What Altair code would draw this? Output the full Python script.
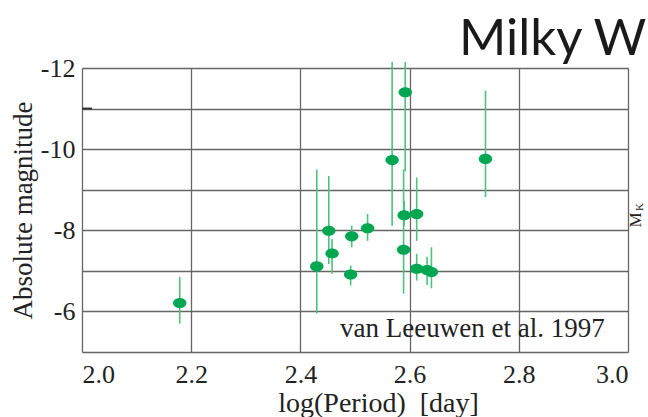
import altair as alt
import pandas as pd

# Cepheid data
log_period = [2.179, 2.430, 2.452, 2.458, 2.492, 2.494, 2.523, 2.568,
              2.589, 2.590, 2.592, 2.613, 2.613, 2.632, 2.640, 2.739]
abs_mag = [-6.21, -7.11, -7.99, -7.43, -6.91, -7.85, -8.05, -9.73,
           -7.52, -8.37, -11.40, -8.40, -7.05, -7.02, -6.97, -9.76]
err_top = [-6.85, -9.50, -9.34, -7.78, -7.13, -8.11, -8.40, -12.15,
           -9.50, -8.72, -12.15, -9.30, -7.42, -7.35, -7.58, -11.44]
err_bottom = [-5.70, -5.95, -7.17, -6.93, -6.64, -7.58, -7.74, -8.11,
              -6.44, -8.11, -9.45, -7.74, -6.76, -6.65, -6.57, -8.82]

x_ticks = [2.0, 2.2, 2.4, 2.6, 2.8, 3.0]
y_grid = [-12, -11, -10, -9, -8, -7, -6, -5]

df = pd.DataFrame({"logP": log_period, "M": abs_mag, "lo": err_top, "hi": err_bottom})

SERIF = "Liberation Serif"
W, H = 546, 284

xscale = alt.Scale(domain=[2.0, 3.0], nice=False, zero=False)
yscale = alt.Scale(domain=[-12, -5], reverse=True, nice=False, zero=False)

xaxis = alt.Axis(values=x_ticks, format=".1f", title="log(Period)\u00a0 [day]",
                 grid=True, ticks=False, domain=False,
                 labelFont=SERIF, labelFontSize=26, labelColor="#222", labelPadding=9,
                 titleFont=SERIF, titleFontSize=28, titleFontWeight="normal",
                 titleColor="#222", titlePadding=2, titleX=296, titleAlign="center",
                 gridColor="#666", gridWidth=1.3)
yaxis = alt.Axis(values=y_grid, labelExpr="datum.value % 2 == 0 ? '' + datum.value : ''",
                 title="Absolute magnitude", grid=True, ticks=False, domain=False,
                 labelFont=SERIF, labelFontSize=26, labelColor="#222", labelPadding=7,
                 titleFont=SERIF, titleFontSize=27, titleFontWeight="normal",
                 titleColor="#222", titlePadding=3,
                 gridColor="#666", gridWidth=1.3)

base = alt.Chart(df)

bars = base.mark_rule(color="#4cc27a", strokeWidth=1.6).encode(
    x=alt.X("logP:Q", scale=xscale, axis=xaxis),
    y=alt.Y("lo:Q", scale=yscale, axis=yaxis),
    y2="hi:Q",
)

ellipse = "M -1 0 A 1 0.75 0 1 1 1 0 A 1 0.75 0 1 1 -1 0 Z"
points = base.mark_point(shape=ellipse, filled=True, size=180, color="#00a651",
                         opacity=1).encode(
    x=alt.X("logP:Q", scale=xscale),
    y=alt.Y("M:Q", scale=yscale),
)

tick11 = alt.Chart(pd.DataFrame({"v": [-11]})).mark_rule(color="#333", strokeWidth=2).encode(
    x=alt.value(0), x2=alt.value(10), y=alt.Y("v:Q", scale=yscale)
)

note = alt.Chart(pd.DataFrame({"t": ["van Leeuwen et al. 1997"]})).mark_text(
    font=SERIF, fontSize=27, align="left", baseline="alphabetic", color="#222"
).encode(text="t:N", x=alt.value(258), y=alt.value(269))

title = alt.Chart(pd.DataFrame({"t": ["Milky W"]})).mark_text(
    font="Lato", fontSize=51, align="left", baseline="alphabetic", color="#1a1a1a"
).encode(text="t:N", x=alt.value(377), y=alt.value(-13))

mk_m = alt.Chart(pd.DataFrame({"t": ["M"]})).mark_text(
    font=SERIF, fontSize=17, align="center", baseline="middle", angle=270, color="#222"
).encode(text="t:N", x=alt.value(554), y=alt.value(152))
mk_k = alt.Chart(pd.DataFrame({"t": ["K"]})).mark_text(
    font=SERIF, fontSize=11, align="center", baseline="middle", angle=270, color="#222"
).encode(text="t:N", x=alt.value(558), y=alt.value(139))

chart = alt.layer(bars, points, tick11, note, title, mk_m, mk_k).properties(
    width=W, height=H,
    autosize=alt.AutoSizeParams(type="none"),
    padding={"left": 82, "top": 68, "right": 20, "bottom": 65},
).configure_view(stroke="#333", strokeWidth=1.5).configure(background="white")

chart.save("out.html", embed_options={"renderer": "svg", "actions": False})
